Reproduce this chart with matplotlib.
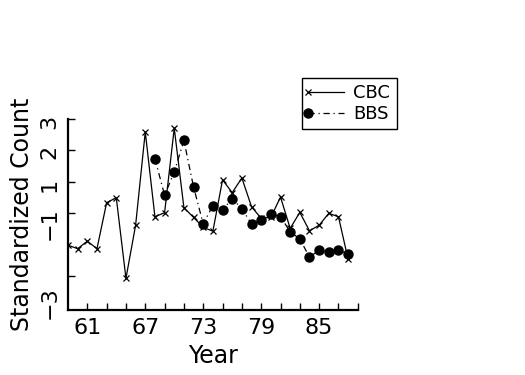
import matplotlib
matplotlib.use('Agg')
import matplotlib.pyplot as plt
from matplotlib.legend_handler import HandlerLine2D

# Standardized counts
cbc_years = list(range(59, 89))
cbc_values = [-1.03, -1.14, -0.90, -1.14, 0.33, 0.49, -2.09, -0.39, 2.59, -0.12,
              0.01, 2.71, 0.17, -0.14, -0.46, -0.58, 1.06, 0.65, 1.12, 0.20,
              -0.17, -0.14, 0.51, -0.49, 0.02, -0.57, -0.39, -0.01, -0.12, -1.48]

bbs_years = list(range(68, 89))
bbs_values = [1.74, 0.57, 1.31, 2.32, 0.83, -0.35, 0.24, 0.10, 0.46, 0.14,
              -0.35, -0.23, -0.03, -0.12, -0.60, -0.83, -1.41, -1.19, -1.25, -1.19, -1.30]

x_ticks = list(range(61, 90, 2))
x_labels = ['61', '67', '73', '79', '85']
y_ticks = [3, 2, 1, 0, -2]
y_labels = ['3', '2', '1', '\u22121', '\u22123']
# where the y labels sit in the reference (they are not centred on ticks)
y_label_pos = [2.9, 1.95, 0.9, -0.35, -2.85]


class LeftMarker(HandlerLine2D):
    # put the legend marker at the left end of the line, like the original
    def create_artists(self, *args, **kwargs):
        arts = super().create_artists(*args, **kwargs)
        for a in arts:
            a.set_markevery([0])
        return arts


fig = plt.figure(figsize=(5.25, 3.75), dpi=100)
ax = fig.add_axes([0.1295, 0.1733, 0.552, 0.509])

l1, = ax.plot(cbc_years, cbc_values, color='black', lw=0.9, marker='x',
              markersize=4.5, markeredgewidth=0.9, label='CBC')
l2, = ax.plot(bbs_years, bbs_values, color='black', lw=0.9, linestyle=(0, (5, 3, 1, 3)),
              marker='o', markersize=6.5, label='BBS')

ax.set_xlim(59, 89)
ax.set_ylim(-3.1, 3.0)

for s in ['top', 'right']:
    ax.spines[s].set_visible(False)
for s in ['left', 'bottom']:
    ax.spines[s].set_linewidth(1.6)

# tick marks (inward) and labels handled separately
ax.set_xticks(x_ticks, minor=True)
ax.set_xticks([int(t) for t in x_labels], x_labels)
ax.tick_params(axis='x', which='minor', direction='in', length=5, width=1)
ax.tick_params(axis='x', which='major', direction='in', length=5, width=1,
               labelsize=16, pad=6)

ax.set_yticks(y_ticks, minor=True)
ax.set_yticks(y_label_pos, y_labels)
ax.tick_params(axis='y', which='minor', direction='in', length=5, width=1)
ax.tick_params(axis='y', which='major', length=0, labelsize=16, pad=6)
for lab in ax.get_yticklabels():
    lab.set_rotation(90)
    lab.set_va('center')

ax.set_xlabel('Year', fontsize=17, labelpad=4)
ax.set_ylabel('Standardized Count', fontsize=17, labelpad=4)

leg = ax.legend(handles=[l1, l2], loc='upper left', bbox_to_anchor=(0.575, 0.792),
                bbox_transform=fig.transFigure, borderaxespad=0, fontsize=13,
                handlelength=2.0, handletextpad=0.5, borderpad=0.35, labelspacing=0.15,
                fancybox=False, framealpha=1, edgecolor='black',
                handler_map={l1: LeftMarker(numpoints=1), l2: LeftMarker(numpoints=1)})
leg.get_frame().set_linewidth(1.0)

fig.savefig('out.png', dpi=100)
